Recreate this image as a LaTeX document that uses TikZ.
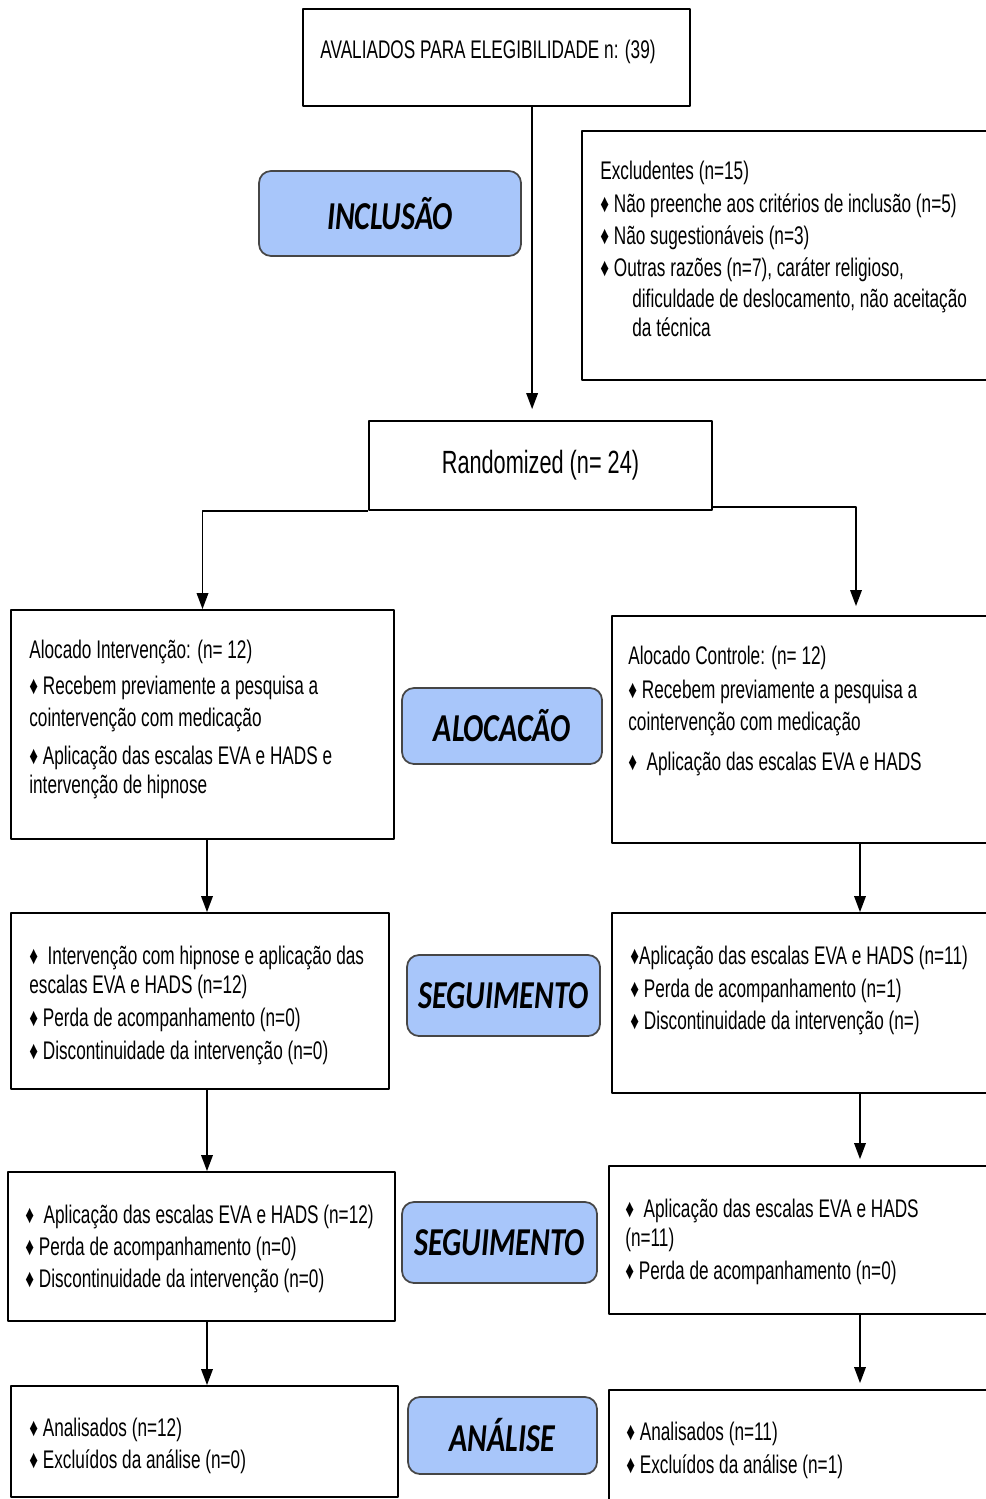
\documentclass[tikz,border=0pt]{standalone}
\usepackage{fontspec}
\setmainfont{Liberation Sans}[FakeStretch=0.675]
\newfontfamily\tagfont{Carlito}[FakeStretch=0.76]
\usetikzlibrary{arrows.meta,calc,fit}
\definecolor{tagblue}{RGB}{168,198,250}
\definecolor{tagline}{RGB}{70,70,70}

\begin{document}
\begin{tikzpicture}[x=0.2mm,y=-0.2mm,line join=round,
  box/.style={draw,line width=1pt,inner sep=0pt},
  tag/.style={draw=tagline,fill=tagblue,line width=1pt,rounded corners=2.4mm,inner sep=0pt},
  tagtxt/.style={inner sep=0pt,font=\tagfont\bfseries\itshape\fontsize{22.5}{24}\selectfont},
  txt/.style={anchor=north west,align=left,inner sep=0pt,font=\fontsize{14.5}{18}\selectfont,
    execute at begin node=\strut},
  arr/.style={line width=1pt,-{Triangle[length=3.2mm,width=2.3mm]}}]
\useasboundingbox (0,0) rectangle (986,1499);
\clip (0,0) rectangle (986,1499);
% top of the chart
\node[box,fit={(303,9) (690,106)}] (aval) {};
\node[txt] (avalTxt) at (320,36) {AVALIADOS PARA ELEGIBILIDADE n: (39)};
\node[tag,fit={(259,171) (521,256)}] (incl) {};
\node[tagtxt] (inclTxt) at (incl) {INCLUSÃO};
\node[box,fit={(582,131) (1100,380)}] (excl) {};
\node[txt] (exclTxt) at (600,161) {Excludentes (n=15)\\[0.4pt]
  ♦ Não preenche aos critérios de inclusão (n=5)\\[0.4pt]
  ♦ Não sugestionáveis (n=3)\\
  ♦ Outras razões (n=7), caráter religioso,\\[-0.4pt]
  \hspace*{6.4mm}dificuldade de deslocamento, não aceitação\\[-1.2pt]
  \hspace*{6.4mm}da técnica};
\node[box,fit={(369,421) (712,510)}] (rand) {};
\node[inner sep=0pt,font=\fontsize{18.3}{20}\selectfont] (randTxt) at (rand) {Randomized (n= 24)};
% allocation
\node[box,fit={(11,610) (394,839)}] (alocI) {};
\node[txt] (alocITxt) at (29,640) {Alocado Intervenção: (n= 12)\\[2.5pt]
  ♦ Recebem previamente a pesquisa a\\
  cointervenção com medicação\\[3.6pt]
  ♦ Aplicação das escalas EVA e HADS e\\[-1.5pt]
  intervenção de hipnose};
\node[tag,fit={(402,688) (602,764)}] (aloc) {};
\node[tagtxt] (alocTxt) at (aloc) {ALOCACÃO};
\node[box,fit={(612,616) (1100,843)}] (alocC) {};
\node[txt] (alocCTxt) at (628,646) {Alocado Controle: (n= 12)\\[1.3pt]
  ♦ Recebem previamente a pesquisa a\\
  cointervenção com medicação\\[4.7pt]
  ♦ \ Aplicação das escalas EVA e HADS};
% first follow-up
\node[box,fit={(11,913) (389,1089)}] (segI1) {};
\node[txt] (segI1Txt) at (29,946) {♦ \ Intervenção com hipnose e aplicação das\\[-1.5pt]
  escalas EVA e HADS (n=12)\\[0.8pt]
  ♦ Perda de acompanhamento (n=0)\\[0.8pt]
  ♦ Discontinuidade da intervenção (n=0)};
\node[tag,fit={(407,955) (600,1036)}] (seg1) {};
\node[tagtxt] (seg1Txt) at (seg1) {SEGUIMENTO};
\node[box,fit={(612,913) (1110,1093)}] (segC1) {};
\node[txt] (segC1Txt) at (630,946) {♦Aplicação das escalas EVA e HADS (n=11)\\[0.4pt]
  ♦ Perda de acompanhamento (n=1)\\[0.4pt]
  ♦ Discontinuidade da intervenção (n=)};
% second follow-up
\node[box,fit={(8,1172) (395,1321)}] (segI2) {};
\node[txt] (segI2Txt) at (25,1205) {♦ \ Aplicação das escalas EVA e HADS (n=12)\\
  ♦ Perda de acompanhamento (n=0)\\
  ♦ Discontinuidade da intervenção (n=0)};
\node[tag,fit={(402,1202) (597,1283)}] (seg2) {};
\node[tagtxt] (seg2Txt) at (seg2) {SEGUIMENTO};
\node[box,fit={(609,1166) (1119,1314)}] (segC2) {};
\node[txt] (segC2Txt) at (625,1199) {♦ \ Aplicação das escalas EVA e HADS\\[-1.5pt]
  (n=11)\\[0.8pt]
  ♦ Perda de acompanhamento (n=0)};
% analysis
\node[box,fit={(11,1386) (398,1497)}] (anaI) {};
\node[txt] (anaITxt) at (29,1418) {♦ Analisados (n=12)\\
  ♦ Excluídos da análise (n=0)};
\node[tag,fit={(408,1397) (597,1474)}] (ana) {};
\node[tagtxt] (anaTxt) at (ana) {ANÁLISE};
\node[box,fit={(609,1390) (1119,1520)}] (anaC) {};
\node[txt] (anaCTxt) at (626,1422) {♦ Analisados (n=11)\\[0.4pt]
  ♦ Excluídos da análise (n=1)};
% connectors
\coordinate (c1) at ($(aval.south west)+(230,0)$);
\coordinate (c2) at ($(rand.south east)+(0,-4)$);
\coordinate (lx) at (207,0);
\coordinate (rx) at (860,0);
\draw[arr,shorten >=2.2mm] (c1) -- (c1 |- rand.north);
\draw[arr] (rand.south west) -| (alocI.north);
\draw[arr,shorten >=1.8mm] (c2) -| (alocC.north);
\draw[arr] (alocI.south -| lx) -- (segI1.north -| lx);
\draw[arr] (segI1.south -| lx) -- (segI2.north -| lx);
\draw[arr] (segI2.south -| lx) -- (anaI.north -| lx);
\draw[arr] (alocC.south -| rx) -- (segC1.north -| rx);
\draw[arr,shorten >=1.2mm] (segC1.south -| rx) -- (segC2.north -| rx);
\draw[arr,shorten >=1.2mm] (segC2.south -| rx) -- (anaC.north -| rx);
\end{tikzpicture}
\end{document}
